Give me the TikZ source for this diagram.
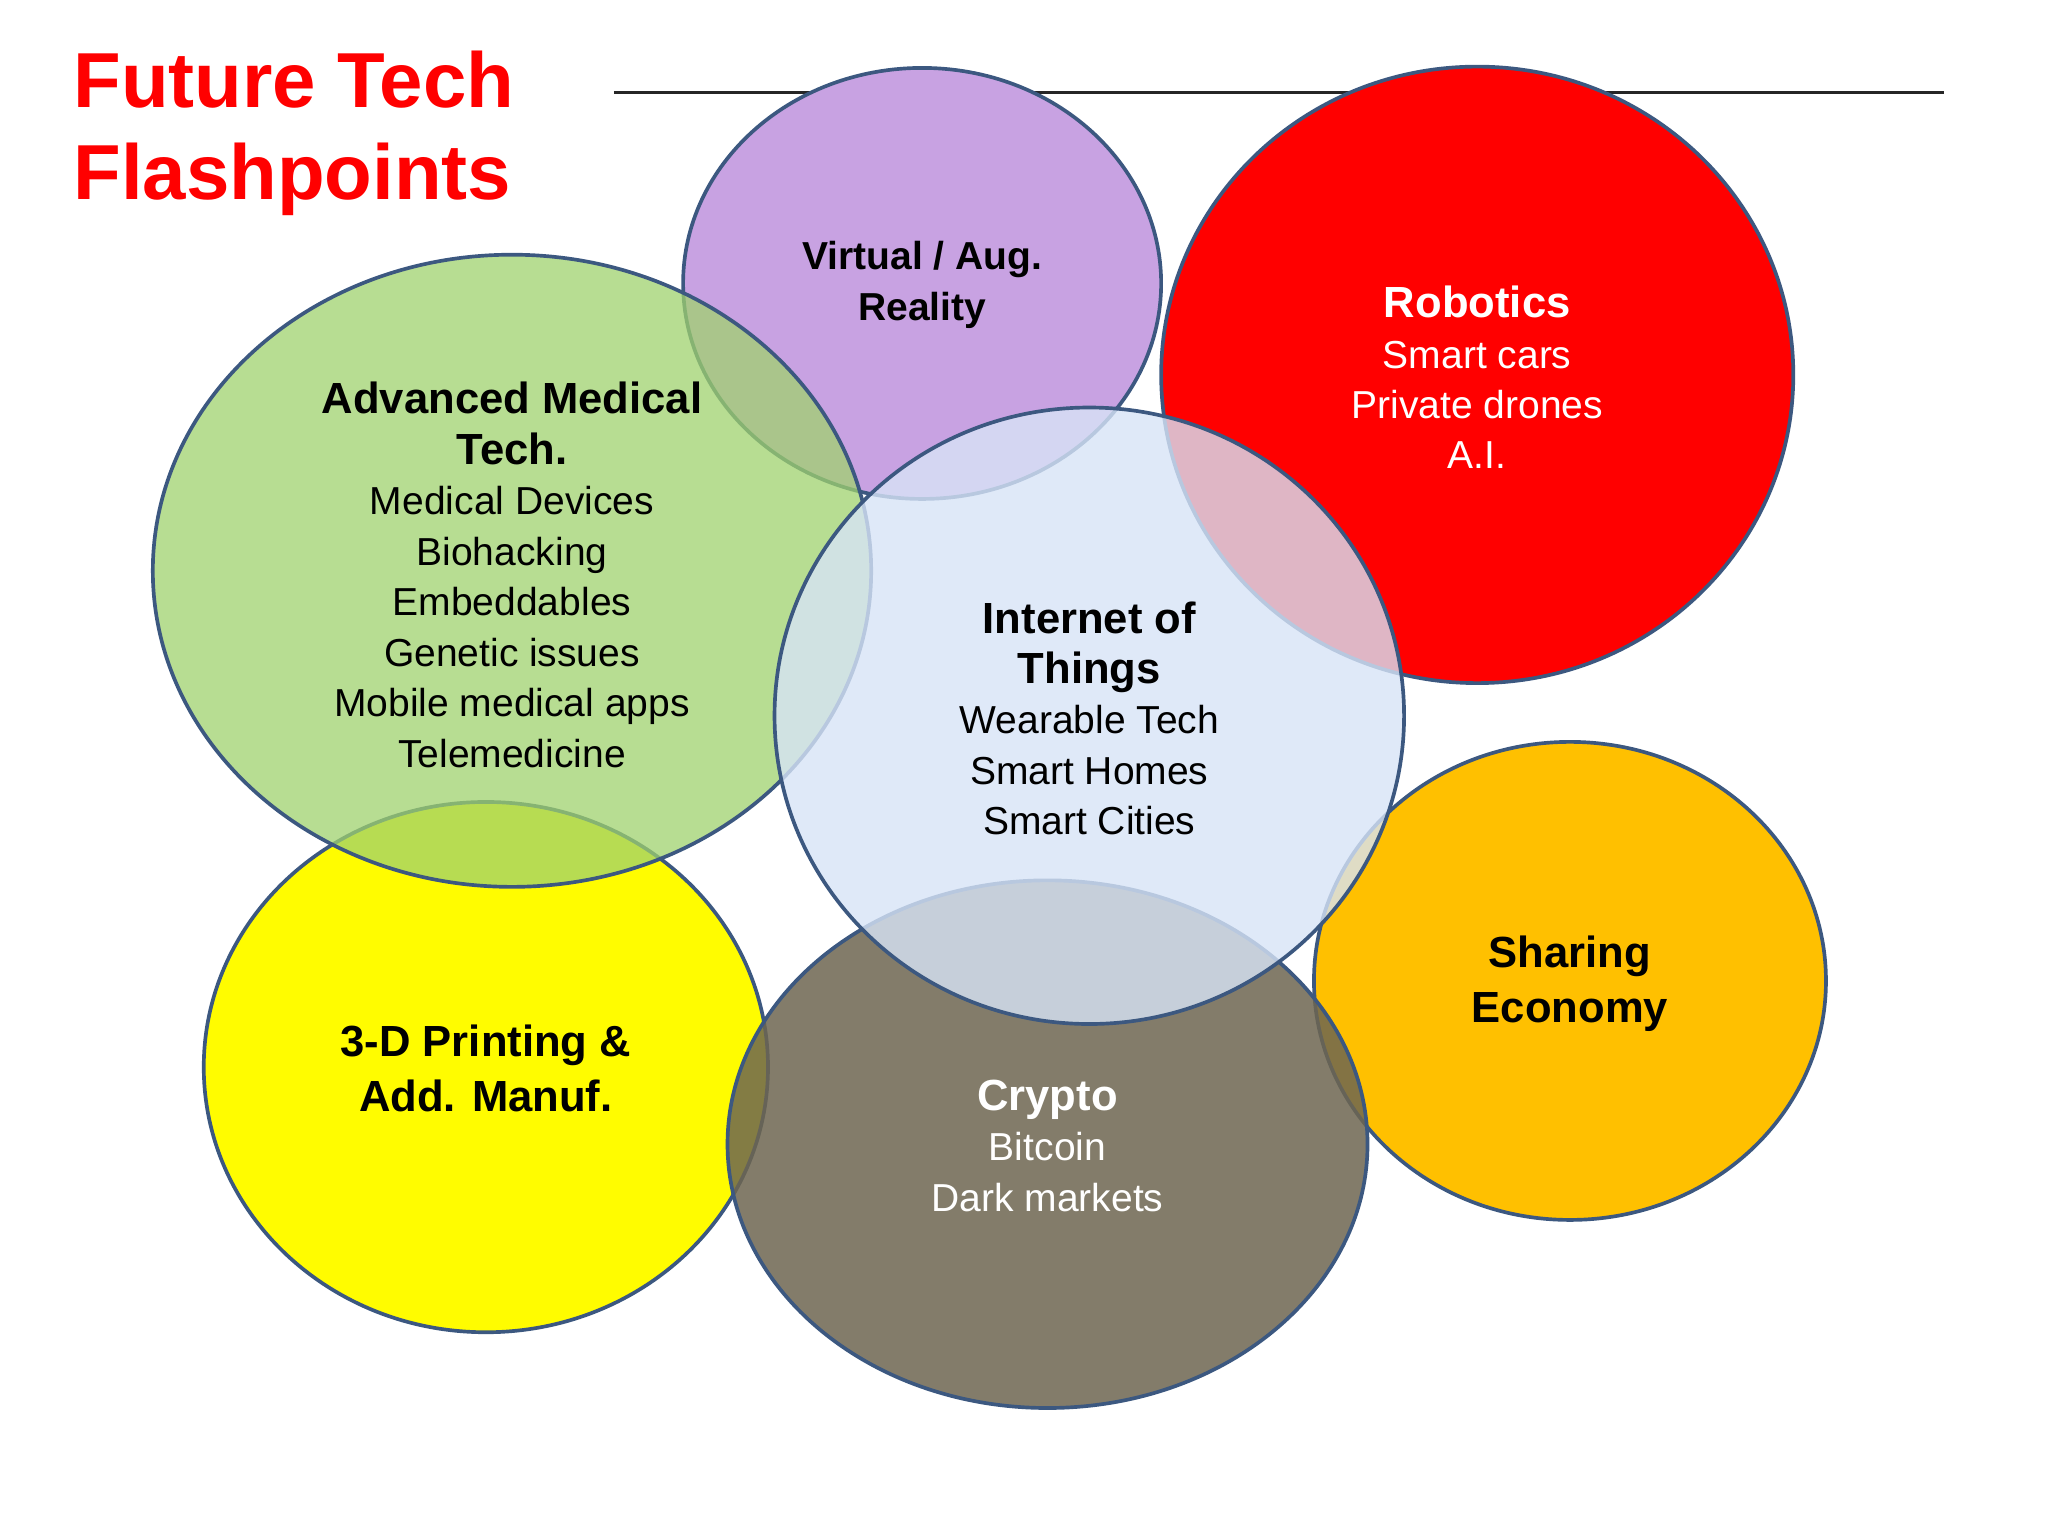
\documentclass[tikz,border=0pt]{standalone}
\usepackage{fontspec}
\setmainfont{Liberation Sans}
\newcommand\hdf{\fontsize{19}{24}\selectfont\bfseries}
\begin{document}
\begin{tikzpicture}[x=0.02cm,y=-0.02cm,
  bub/.style={draw={rgb,255:red,60;green,88;blue,128},line width=1.6pt},
  lab/.style={align=center,font=\fontsize{17}{22}\selectfont},
  hd/.style={font=\hdf}]
\definecolor{cgreen}{RGB}{160,210,110}
\definecolor{cpurple}{RGB}{200,162,226}
\definecolor{cblue}{RGB}{215,228,247}
\definecolor{cyellow}{RGB}{255,252,0}
\definecolor{cgray}{RGB}{110,102,80}
\definecolor{corange}{RGB}{255,192,0}
\useasboundingbox (0,0) rectangle (1568,1176);
\fill[white] (0,0) rectangle (1568,1176);
\node[anchor=west,text=red,font=\fontsize{34}{40}\selectfont\bfseries,align=left] (title) at (50,102) {Future Tech\\Flashpoints};
\coordinate (l1) at (470,71); \coordinate (l2) at (1488,71);
\draw[line width=1.2pt,black!85] (l1) -- (l2);
\filldraw[bub,fill=cyellow] (372,817) ellipse [x radius=216,y radius=203];
\filldraw[bub,fill=corange] (1202,751) ellipse [x radius=196,y radius=183];
\filldraw[bub,fill=cpurple] (706,217) ellipse [x radius=183,y radius=165];
\filldraw[bub,fill=red] (1131,287) ellipse [x radius=242,y radius=236];
\filldraw[bub,fill=cgreen,fill opacity=0.75] (392,437) ellipse [x radius=275,y radius=242];
\filldraw[bub,fill=cgray,fill opacity=0.85] (802,876) ellipse [x radius=245,y radius=202];
\filldraw[bub,fill=cblue,fill opacity=0.8] (834,548) ellipse [x radius=241,y radius=236];
\node[lab] (va) at (706,218) {\bfseries Virtual / Aug.\\\bfseries Reality};
\node[lab,text=white] (rob) at (1131,289) {{\hdf Robotics}\\Smart cars\\Private drones\\A.I.};
\node[lab] (med) at (392,440) {{\hdf Advanced Medical}\\{\hdf Tech.}\\Medical Devices\\Biohacking\\Embeddables\\Genetic issues\\Mobile medical apps\\Telemedicine};
\node[lab] (iot) at (834,550) {{\hdf Internet of}\\{\hdf Things}\\Wearable Tech\\Smart Homes\\Smart Cities};
\node[lab,hd] (pr) at (372,818) {3-D Printing \&\\Add. Manuf.};
\node[lab,text=white] (cr) at (802,877) {{\hdf Crypto}\\Bitcoin\\Dark markets};
\node[lab,hd] (sh) at (1202,753) {Sharing\\Economy};
\end{tikzpicture}
\end{document}
